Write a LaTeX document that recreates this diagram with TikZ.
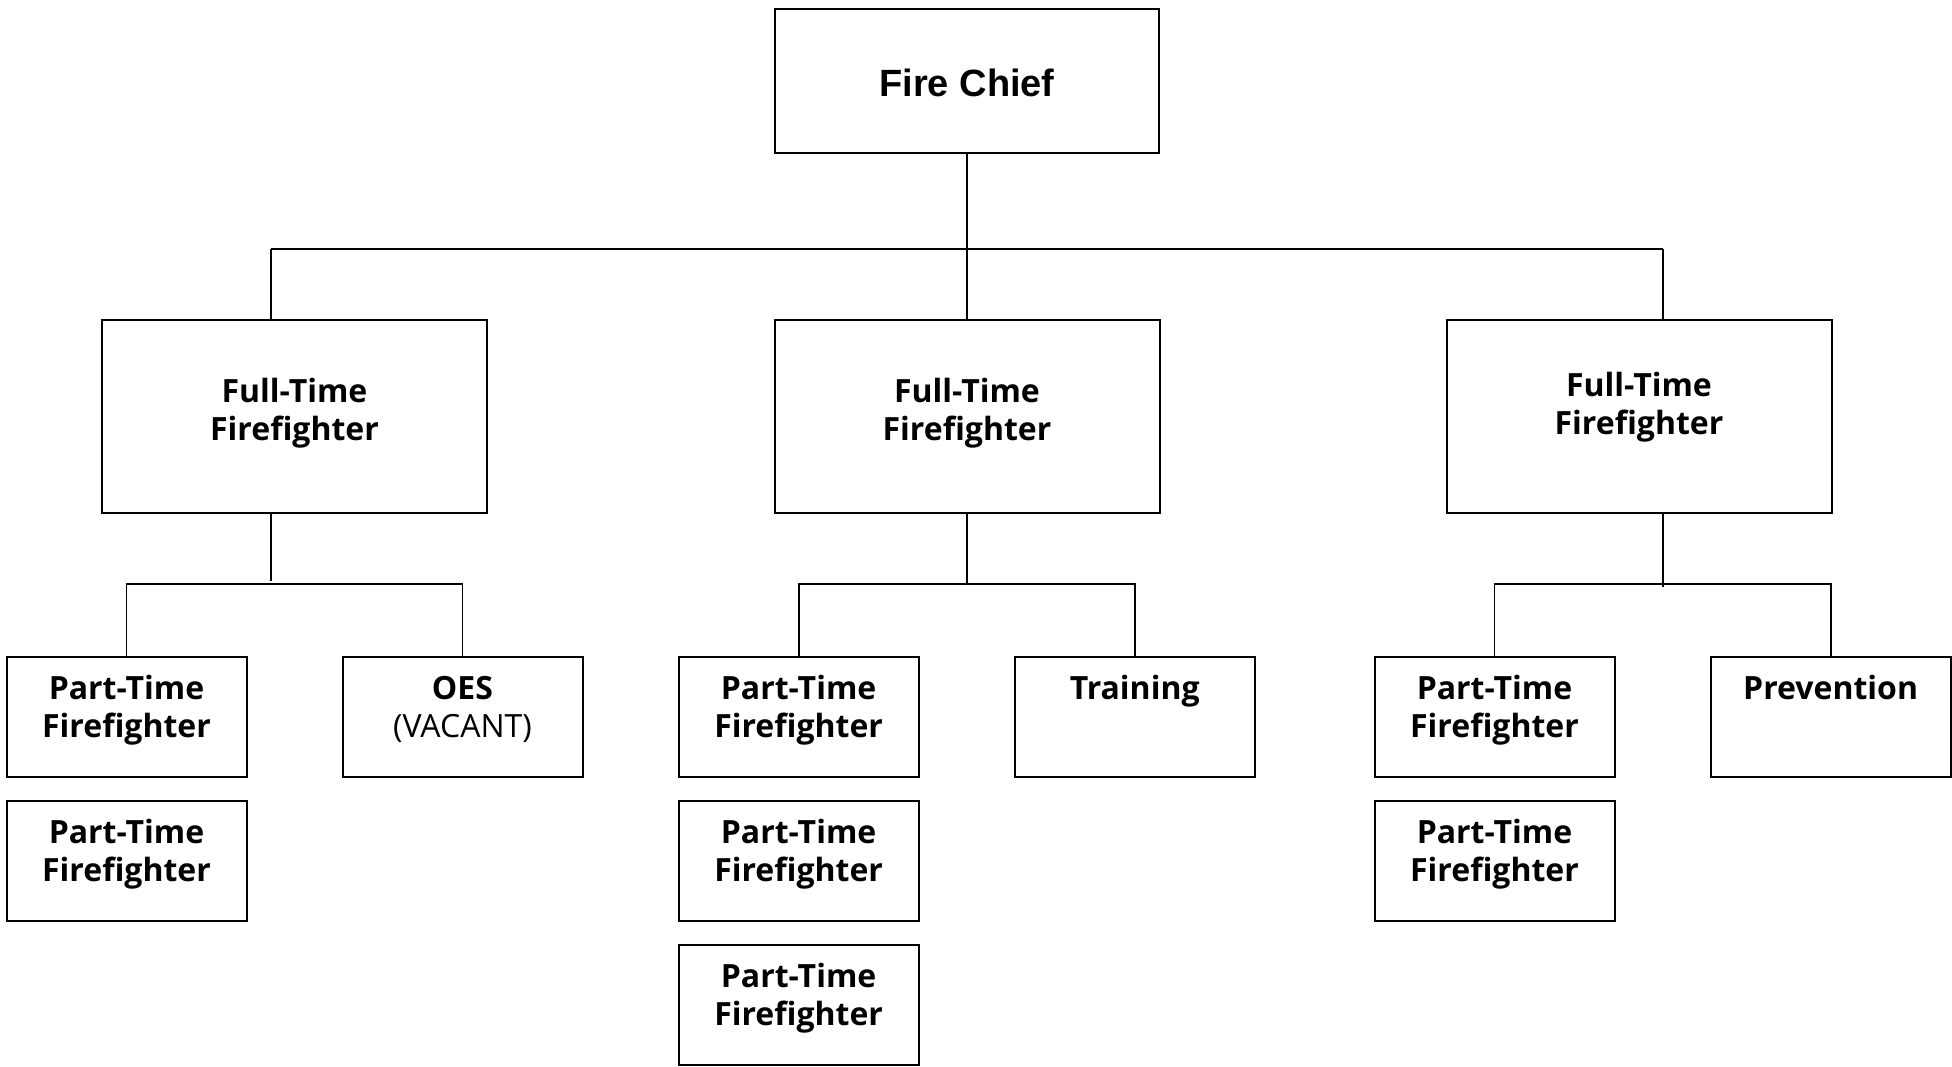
\documentclass[tikz,border=0pt]{standalone}
\usepackage{fontspec}
\setmainfont{Open Sans}
\newfontfamily\chieffont{Liberation Sans}
\begin{document}
\begin{tikzpicture}[x=1pt,y=-1pt,
  box/.style={draw, line width=2pt, inner sep=0pt, rectangle},
  chiefbox/.style={box, minimum width=384pt, minimum height=144pt},
  ftbox/.style={box, minimum width=385pt, minimum height=193pt},
  ptbox/.style={box, minimum width=240pt, minimum height=120pt},
  lbl/.style={font=\bfseries\fontsize{32}{38}\selectfont, align=center, inner sep=0pt, anchor=base},
  link/.style={line width=1.8pt}
]
\useasboundingbox (0,0) rectangle (1952,1066);

% boxes
\node[chiefbox] (chief) at (967,81) {};
\node[ftbox] (ftL) at (294.5,416.5) {};
\node[ftbox] (ftM) at (967,416.5) {};
\node[ftbox] (ftR) at (1639,416.5) {};

\node[ptbox] (ptL1) at (126.5,717) {};
\node[ptbox] (ptL2) at (126.5,860.5) {};
\node[ptbox] (oes)  at (462.5,717) {};
\node[ptbox] (ptM1) at (798.6,717) {};
\node[ptbox] (ptM2) at (798.6,860.5) {};
\node[ptbox] (ptM3) at (798.6,1004.5) {};
\node[ptbox] (train) at (1134.7,717) {};
\node[ptbox] (ptR1) at (1494.5,717) {};
\node[ptbox] (ptR2) at (1494.5,860.5) {};
\node[ptbox] (prev) at (1830.6,717) {};

% labels (anchor=base is the baseline of the last line)
\node[inner sep=0pt, anchor=base, font=\chieffont\bfseries\fontsize{38}{44}\selectfont] (tchief) at (967,96.5) {Fire Chief};
\node[lbl] (tftL) at (294.5,440.5) {Full-Time\\Firefighter};
\node[lbl] (tftM) at (967,440.5) {Full-Time\\Firefighter};
\node[lbl] (tftR) at (1639,434.5) {Full-Time\\Firefighter};

\node[lbl] (tptL1) at (126.5,737.5) {Part-Time\\Firefighter};
\node[lbl] (tptL2) at (126.5,881) {Part-Time\\Firefighter};
\node[lbl] (toes) at (462.5,737.5) {OES\\\mdseries(VACANT)};
\node[lbl] (tptM1) at (798.6,737.5) {Part-Time\\Firefighter};
\node[lbl] (tptM2) at (798.6,881) {Part-Time\\Firefighter};
\node[lbl] (tptM3) at (798.6,1025) {Part-Time\\Firefighter};
\node[lbl] (ttrain) at (1134.7,699.5) {Training};
\node[lbl] (tptR1) at (1494.5,737.5) {Part-Time\\Firefighter};
\node[lbl] (tptR2) at (1494.5,881) {Part-Time\\Firefighter};
\node[lbl] (tprev) at (1830.6,699.5) {Prevention};

% top bus
\coordinate (busL) at (271,249);
\coordinate (busR) at (1663,249);
\coordinate (busM) at (chief.south |- busL);
\draw[link] (chief.south) -- (busM);
\draw[link] (busL) -- (busR);
\draw[link] (busL) -- (busL |- ftL.north);
\draw[link] (busM) -- (ftM.north);
\draw[link] (busR) -- (busR |- ftR.north);

% left group
\coordinate (dropL) at (271,581);
\coordinate (subL) at (ptL1.north |- 0,584);
\coordinate (subLr) at (oes.north |- 0,584);
\draw[link] (busL |- ftL.south) -- (dropL);
\draw[link] (ptL1.north) -- (subL) -- (subLr) -- (oes.north);

% middle group
\coordinate (subM) at (ptM1.north |- 0,584);
\coordinate (subMr) at (train.north |- 0,584);
\draw[link] (ftM.south) -- (ftM.south |- subM);
\draw[link] (ptM1.north) -- (subM) -- (subMr) -- (train.north);

% right group
\coordinate (dropR) at (1663,587);
\coordinate (subR) at (ptR1.north |- 0,584);
\coordinate (subRr) at (prev.north |- 0,584);
\draw[link] (busR |- ftR.south) -- (dropR);
\draw[link] (ptR1.north) -- (subR) -- (subRr) -- (prev.north);
\end{tikzpicture}
\end{document}
